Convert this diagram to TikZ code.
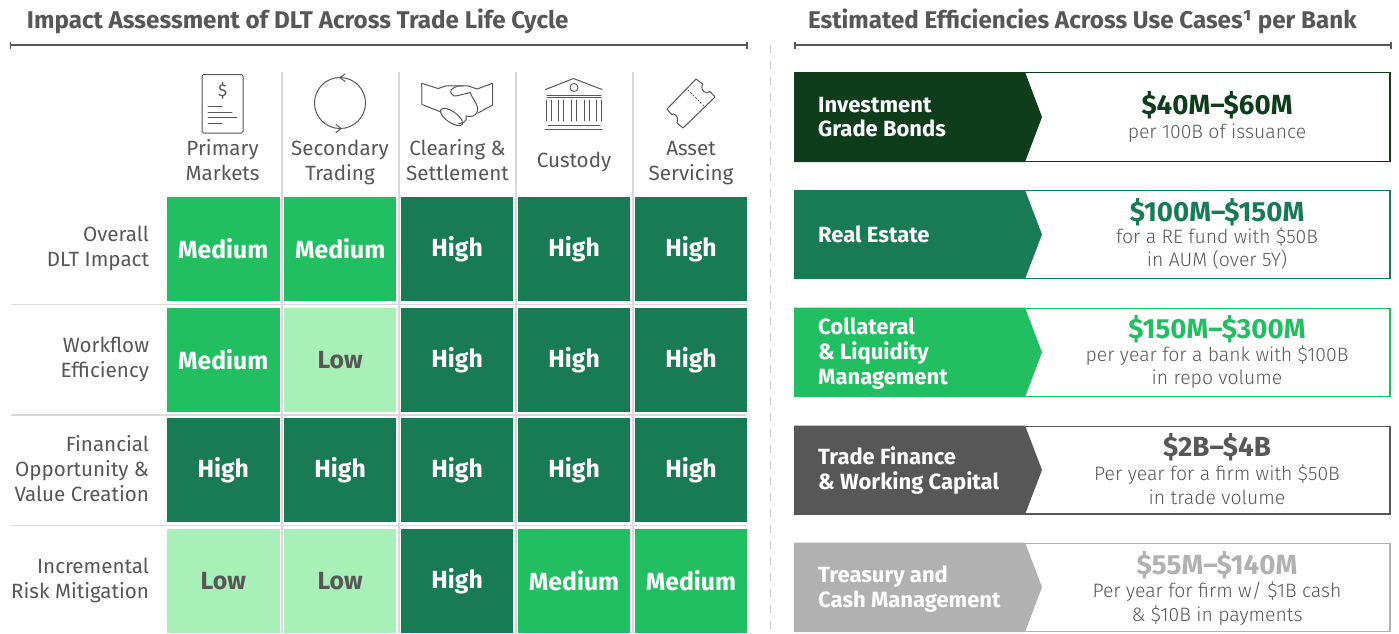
\documentclass[tikz,border=0pt]{standalone}
\usepackage{fontspec}
\setmainfont{Fira Sans}
\newfontfamily\lightface{Fira Sans Light}
\usetikzlibrary{arrows.meta}
\definecolor{ink}{HTML}{575757}
\definecolor{sep}{HTML}{D9D9D9}
\definecolor{gHigh}{HTML}{197A56}
\definecolor{gMed}{HTML}{21BF61}
\definecolor{gLow}{HTML}{A8F0B8}
\definecolor{gDeep}{HTML}{0F3D1C}
\definecolor{gGray}{HTML}{575757}
\definecolor{gPale}{HTML}{B1B1B1}
\newcommand{\fs}[1]{\fontsize{#1}{#1}\selectfont}
\tikzset{
 x=1pt,y=-1pt,
 txt/.style={inner sep=0pt,outer sep=0pt,text=ink},
 heading/.style={txt,anchor=base west,font=\fs{24.2}\bfseries},
 colhead/.style={txt,align=center,font=\fontsize{20.6}{25}\selectfont},
 rowhead/.style={txt,anchor=east,align=right,font=\fontsize{20.6}{24.8}\selectfont},
 high/.style={fill=gHigh,text=white},
 medium/.style={fill=gMed,text=white},
 low/.style={fill=gLow,text=ink},
 cell/.style={inner sep=0pt,minimum width=112.5pt,minimum height=104.4pt,font=\fs{24.8}\bfseries},
 rule/.style={draw=ink,line width=1.3pt},
 icon/.style={draw=ink,line width=1pt,line join=round,line cap=round},
 sepline/.style={draw=sep,line width=1.6pt},
 tag/.style={inner sep=0pt,anchor=west,align=left,text=white,font=\bfseries\fontsize{22}{24.8}\selectfont},
 amount/.style={inner sep=0pt,font=\bfseries\fs{27.7}},
 note/.style={txt,align=center,font=\lightface\fontsize{19.4}{23.5}\selectfont},
}
\begin{document}
\begin{tikzpicture}
\useasboundingbox (0,0) rectangle (1399,633);
\fill[white] (0,0) rectangle (1399,633);
% headings
\node[heading] (titleL) at (27,28) {Impact Assessment of DLT Across Trade Life Cycle};
\node[heading] (titleR) at (808,28) {Estimated Efficiencies Across Use Cases¹ per Bank};
\draw[rule] (10.5,45) -- (747,45);
\draw[rule] (10.5,41.5) -- (10.5,48.5);
\draw[rule] (747,41.5) -- (747,48.5);
\draw[rule] (795,45) -- (1391,45);
\draw[rule] (795,41.5) -- (795,48.5);
\draw[rule] (1391,41.5) -- (1391,48.5);
\draw[draw=sep!80!gray,line width=1pt,dash pattern=on 7.5pt off 8.5pt] (770,45) -- (770,630);
% grid separators
\foreach \xx in {281.8,399,516,633} \draw[sepline] (\xx,72) -- (\xx,633);
\foreach \yy in {304.5,415,525.5} \draw[sepline] (10.5,\yy) -- (747,\yy);
% cells
\foreach \rr/\yc/\cs in {1/249/{medium,medium,high,high,high},2/360/{medium,low,high,high,high},3/470/{high,high,high,high,high},4/581/{low,low,high,medium,medium}}{
 \foreach \kind [count=\cc] in \cs {
  \pgfmathsetmacro{\xc}{223.25+116.94*(\cc-1)}
  \ifnum\pdfstrcmp{\kind}{high}=0 \def\lab{High}\else\ifnum\pdfstrcmp{\kind}{low}=0 \def\lab{Low}\else\def\lab{Medium}\fi\fi
  \node[cell,\kind] (cell-\rr-\cc) at (\xc,\yc) {\lab};
 }
}
% column heads
\node[colhead] (c1) at (222.6,160) {Primary\\Markets};
\node[colhead] (c2) at (340,162) {Secondary\\Trading};
\node[colhead] (c3) at (457.5,160) {Clearing \&\\Settlement};
\node[colhead] (c4) at (574,161.5) {Custody};
\node[colhead] (c5) at (691,163) {Asset\\Servicing};
% row heads
\node[rowhead] (r1) at (149,248.5) {Overall\\DLT Impact};
\node[rowhead] (r2) at (149,359.5) {Workflow\\Efficiency};
\node[rowhead] (r3) at (149,468.5) {Financial\\Opportunity \&\\Value Creation};
\node[rowhead] (r4) at (149,580.5) {Incremental\\Risk Mitigation};
% document icon
\draw[icon,rounded corners=1.5pt] (202,74.5) rectangle (243,133);
\node[txt,font=\fs{17}] (dollar) at (222.6,91) {\$};
\draw[icon] (208,106) -- (222,106) (208,112) -- (232,112) (208,117.5) -- (237,117.5) (208,123) -- (222,123);
% cycle icon
\draw[icon] (340,103) circle[radius=25.5];
\draw[icon] (345,74) -- (340,77.5) -- (345,81.5);
\draw[icon] (336,124.5) -- (341,128.5) -- (336,132.5);
% handshake icon
\draw[icon] (421.7,83.3) -- (438,88.5) -- (446,85.8) -- (463,85.8);
\draw[icon] (421.7,83.3) -- (422,104.5) -- (441,112);
\draw[icon] (492.7,83.3) -- (477,89) -- (468,85.8) -- (458,86) .. controls (452,88) and (447,91) .. (454,96) .. controls (458,96) and (464,94) .. (470,92.5);
\draw[icon] (492.7,83.3) -- (492.7,105) -- (478,113);
\draw[icon] (470,92.5) .. controls (473,100) and (481,107) .. (476,114) .. controls (472,118) and (468,116) .. (466,116);
\draw[icon] (466,116) .. controls (468,122) and (462,123) .. (458,124);
\draw[icon,rotate around={-35:(451.5,117)}] (451.5,117) ellipse[x radius=13,y radius=5.5];
% bank icon
\draw[icon] (545.5,89.5) -- (573.5,78.5) -- (602,89.5);
\draw[icon,line width=.9pt] (574,87.5) circle[radius=4];
\draw[icon] (547,95) -- (601,95) (547,97.5) -- (601,97.5);
\foreach \xx in {549,561,574,587,599}{
 \draw[icon,line width=.8pt] (\xx-2.5,100) -- (\xx-2.5,121) (\xx+2.5,100) -- (\xx+2.5,121);
}
\draw[icon] (548,125) -- (600,125) (545,129) -- (602,129);
% ticket icon
\draw[icon] (667,109) -- (696,79) -- (702.5,84) .. controls (700,92) and (706,94) .. (710,91.5) -- (715,97) -- (683,128) -- (677,123) .. controls (680,116) and (673,112) .. (671.5,114.5) -- cycle;
\draw[icon,line width=.8pt,dash pattern=on 1.5pt off 2pt] (688,90) -- (704,106);
% right side panels
\foreach \nn/\top/\bot/\cola in {1/72/162/gDeep,2/190/279/gHigh,3/307.5/397/gMed,4/425.5/514.5/gGray,5/542.5/632/gPale}{
 \pgfmathsetmacro{\mid}{(\top+\bot)/2}
 \pgfmathsetmacro{\topi}{\top+.7}
 \pgfmathsetmacro{\boti}{\bot-.7}
 \draw[\cola,line width=1.4pt,fill=white] (794.7,\topi) rectangle (1390,\boti);
 \fill[\cola] (794,\top) -- (1025,\top) -- (1042,\mid) -- (1025,\bot) -- (794,\bot) -- cycle;
}
\node[tag] (t1) at (818,117) {Investment\\Grade Bonds};
\node[tag] (t2) at (818,234) {Real Estate};
\node[tag] (t3) at (818,353.5) {Collateral\\\& Liquidity\\Management};
\node[tag] (t4) at (818,470.5) {Trade Finance\\\& Working Capital};
\node[tag] (t5) at (818,589) {Treasury and\\Cash Management};
\node[amount,text=gDeep] (a1) at (1217,105.5) {\$40M–\$60M};
\node[note] (n1) at (1217,133) {per 100B of issuance};
\node[amount,text=gHigh] (a2) at (1217,212) {\$100M–\$150M};
\node[note] (n2) at (1217,248.5) {for a RE fund with \$50B\\in AUM (over 5Y)};
\node[amount,text=gMed] (a3) at (1217,329.5) {\$150M–\$300M};
\node[note] (n3) at (1217,367) {per year for a bank with \$100B\\in repo volume};
\node[amount,text=gGray] (a4) at (1217,447.5) {\$2B–\$4B};
\node[note] (n4) at (1217,484.5) {Per year for a firm with \$50B\\in trade volume};
\node[amount,text=gPale] (a5) at (1217,565.5) {\$55M–\$140M};
\node[note] (n5) at (1217,603.5) {Per year for firm w/ \$1B cash\\\& \$10B in payments};
\end{tikzpicture}
\end{document}
